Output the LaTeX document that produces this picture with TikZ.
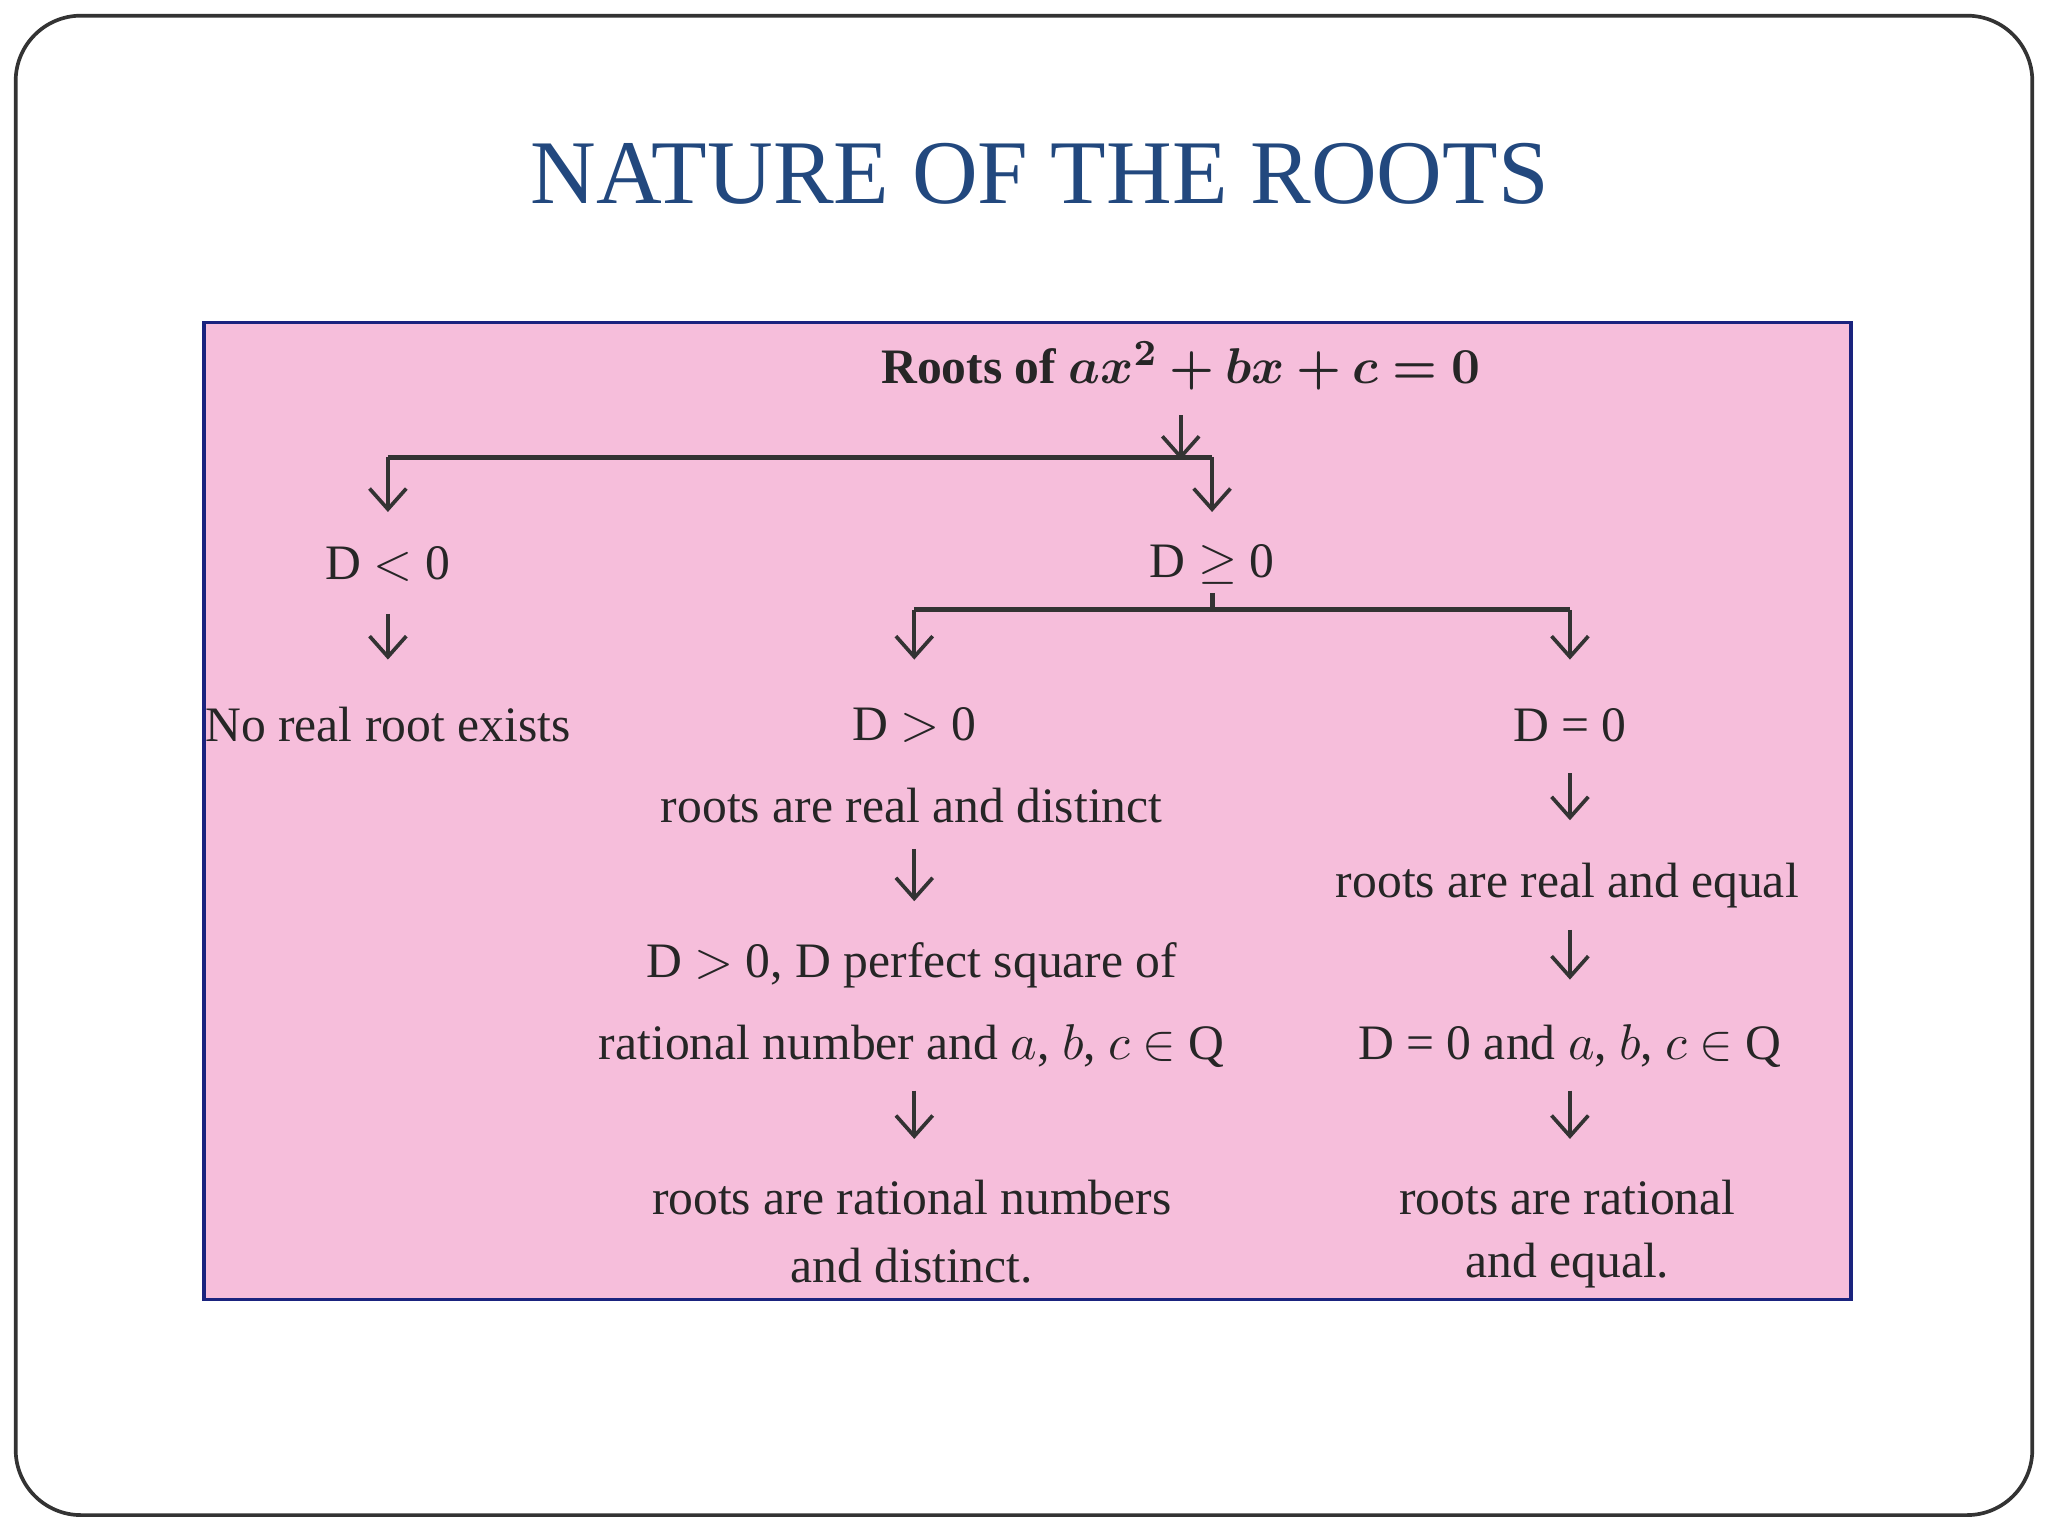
\documentclass[tikz,border=0pt]{standalone}
\usepackage{amsmath,amssymb,bm}
\usepackage{fontspec}
\setmainfont{Liberation Serif}
\usetikzlibrary{arrows.meta}
\definecolor{titleblue}{HTML}{22487E}
\definecolor{pinkbg}{HTML}{F6BEDB}
\definecolor{frame}{HTML}{1A237E}
\begin{document}
\begin{tikzpicture}[x=0.01cm,y=-0.01cm,
  txt/.style={font=\fontsize{10.8}{13}\selectfont,text=black!85,inner sep=0pt},
  arr/.style={-{Straight Barb[length=4.5pt,width=8pt]},line width=0.8pt,black!80},
  ln/.style={line width=1.1pt,black!80}]
\useasboundingbox (0,0) rectangle (1568,1176);
\draw[black!80,line width=0.8pt,rounded corners=0.5cm] (12,12) rectangle (1556,1160);
\node[font=\fontsize{19.8}{24}\selectfont,text=titleblue] (title) at (796,133) {NATURE OF THE ROOTS};
\draw[fill=pinkbg,draw=frame,line width=0.8pt] (156,247) rectangle (1417,995);
\node[txt,font=\fontsize{10.8}{13}\bfseries\selectfont] (root) at (904,280) {Roots of $\bm{ax^2+bx+c=0}$};
\coordinate (r1) at (904,318); \coordinate (r2) at (904,352);
\draw[arr] (r1) -- (r2);
\coordinate (hl) at (297,350); \coordinate (hr) at (928,350);
\coordinate (dl) at (297,392); \coordinate (dr) at (928,392);
\draw[ln] (hl) -- (hr);
\draw[arr] (hl) -- (dl);
\draw[arr] (hr) -- (dr);
\node[txt] (dneg) at (297,432) {D $<$ 0};
\node[txt] (dge) at (928,432) {D $\geq$ 0};
\coordinate (a1) at (297,470); \coordinate (a2) at (297,505);
\draw[arr] (a1) -- (a2);
\node[txt] (noreal) at (297,555) {No real root exists};
\coordinate (t1) at (928,454); \coordinate (t2) at (928,467);
\coordinate (gl) at (700,467); \coordinate (gr) at (1202,467);
\coordinate (gl2) at (700,505); \coordinate (gr2) at (1202,505);
\draw[ln] (t1) -- (t2);
\draw[ln] (gl) -- (gr);
\draw[arr] (gl) -- (gl2);
\draw[arr] (gr) -- (gr2);
\node[txt] (dpos) at (700,555) {D $>$ 0};
\node[txt] (dzero) at (1202,555) {D = 0};
\node[txt] (rd) at (698,617) {roots are real and distinct};
\coordinate (b1) at (700,650); \coordinate (b2) at (700,690);
\draw[arr] (b1) -- (b2);
\node[txt] (ps1) at (698,739) {D $>$ 0, D perfect square of};
\node[txt] (ps2) at (698,801) {rational number and $a$, $b$, $c$ $\in$ Q};
\coordinate (c1) at (700,835); \coordinate (c2) at (700,872);
\draw[arr] (c1) -- (c2);
\node[txt] (rn1) at (698,917) {roots are rational numbers};
\node[txt] (rn2) at (698,969) {and distinct.};
\coordinate (e1) at (1202,592); \coordinate (e2) at (1202,628);
\draw[arr] (e1) -- (e2);
\node[txt] (re) at (1200,678) {roots are real and equal};
\coordinate (f1) at (1202,712); \coordinate (f2) at (1202,750);
\draw[arr] (f1) -- (f2);
\node[txt] (dq) at (1202,801) {D = 0 and $a$, $b$, $c$ $\in$ Q};
\coordinate (g1) at (1202,835); \coordinate (g2) at (1202,872);
\draw[arr] (g1) -- (g2);
\node[txt] (rq1) at (1200,917) {roots are rational};
\node[txt] (rq2) at (1200,969) {and equal.};
\end{tikzpicture}
\end{document}
